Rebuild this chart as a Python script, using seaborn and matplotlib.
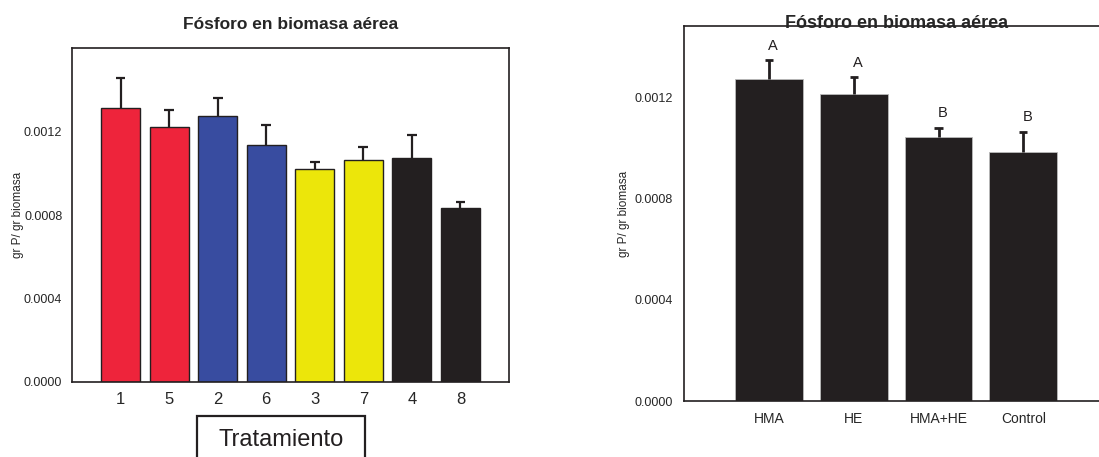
import matplotlib
matplotlib.use("Agg")
import matplotlib.pyplot as plt
import seaborn as sns
import numpy as np
from matplotlib.patches import Rectangle

# ---- data ----
treat_labels = ["1", "5", "2", "6", "3", "7", "4", "8"]
treat_means = [0.001314, 0.001220, 0.001276, 0.001134, 0.001019, 0.001063, 0.001071, 0.000832]
treat_err = [0.000141, 0.000081, 0.000083, 0.000099, 0.000036, 0.000064, 0.000112, 0.000029]
treat_colors = ["#EE243B", "#EE243B", "#384CA0", "#384CA0", "#ECE60A", "#ECE60A", "#231F20", "#231F20"]

group_labels = ["HMA", "HE", "HMA+HE", "Control"]
group_means = [0.001270, 0.001213, 0.001044, 0.000984]
group_err = [0.000075, 0.000066, 0.000035, 0.000080]
group_letters = ["A", "A", "B", "B"]

yticks_left = [0.0, 0.0004, 0.0008, 0.0012]
title = "Fósforo en biomasa aérea"
ylabel = "gr P/ gr biomasa"
xlabel_box = "Tratamiento"

sns.set_style("white")
plt.rcParams['font.family'] = ['Liberation Sans', 'DejaVu Sans']

W, H = 1099, 457
fig = plt.figure(figsize=(W / 100, H / 100), dpi=100)

def px_axes(x0, y0, x1, y1):
    return fig.add_axes([x0 / W, (H - y1) / H, (x1 - x0) / W, (y1 - y0) / H])

dark = "#231F20"

def upper_err(ax, pos, means, errs, cap, lw):
    tops = np.array(means) + np.array(errs)
    ax.vlines(pos, means, tops, colors=dark, linewidth=lw, zorder=5)
    ax.hlines(tops, pos - cap / 2, pos + cap / 2, colors=dark, linewidth=lw, zorder=5)

# ---- left chart ----
ax1 = px_axes(72, 48, 509, 382)
sns.barplot(x=treat_labels, y=treat_means, hue=treat_labels, palette=treat_colors,
            order=treat_labels, legend=False, width=0.8, edgecolor=dark, linewidth=1.0,
            saturation=1, ax=ax1)
pos = np.arange(len(treat_labels))
upper_err(ax1, pos, treat_means, treat_err, 0.2, 1.6)
ax1.set_xlim(-1, 8)
ax1.set_ylim(0, 0.0016)
ax1.set_yticks(yticks_left)
ax1.set_yticklabels([f"{v:.4f}" for v in yticks_left], fontsize=9)
ax1.set_xticks(pos)
ax1.set_xticklabels(treat_labels, fontsize=12)
ax1.tick_params(axis='both', direction='out', length=4, width=1, color=dark, pad=3)
ax1.tick_params(axis='y', pad=3)
for s in ax1.spines.values():
    s.set_visible(True)
    s.set_color(dark)
    s.set_linewidth(1.2)
ax1.set_xlabel("")
ax1.set_ylabel(ylabel, fontsize=8.5, labelpad=0)
ax1.set_title(title, fontsize=12.5, fontweight='bold', pad=14)

# Tratamiento box
fig.patches.append(Rectangle((197 / W, -0.05), (365 - 197) / W, (H - 416) / H + 0.05,
                             transform=fig.transFigure, fill=False, edgecolor=dark,
                             linewidth=1.6))
fig.text((197 + 365) / 2 / W, (H - 440) / H, xlabel_box, ha='center', va='center',
         fontsize=17, color=dark)

# ---- right chart ----
ax2 = px_axes(684.3, 26.3, 1108, 401)
sns.barplot(x=group_labels, y=group_means, color=dark, order=group_labels,
            width=0.8, edgecolor="#BBBBBB", linewidth=0.6, saturation=1, ax=ax2)
gpos = np.arange(len(group_labels))
upper_err(ax2, gpos, group_means, group_err, 0.1, 2.0)
for i, (m, e, l) in enumerate(zip(group_means, group_err, group_letters)):
    ax2.text(i + 0.05, m + e + 0.000058, l, ha='center', va='center', fontsize=10.5, color=dark)
ax2.set_xlim(-1, 4)
ax2.set_ylim(0, 0.00148)
ax2.set_yticks(yticks_left)
ax2.set_yticklabels([f"{v:.4f}" for v in yticks_left], fontsize=9)
ax2.set_xticks(gpos)
ax2.set_xticklabels(group_labels, fontsize=10)
ax2.tick_params(axis='both', direction='out', length=4, width=1, color=dark, pad=4)
for s in ax2.spines.values():
    s.set_visible(True)
    s.set_color(dark)
    s.set_linewidth(1.2)
ax2.set_xlabel("")
ax2.set_ylabel(ylabel, fontsize=8.5, labelpad=3.5)
ax2.set_title(title, fontsize=13, fontweight='bold', pad=-1)

fig.savefig("out.png", dpi=100)
